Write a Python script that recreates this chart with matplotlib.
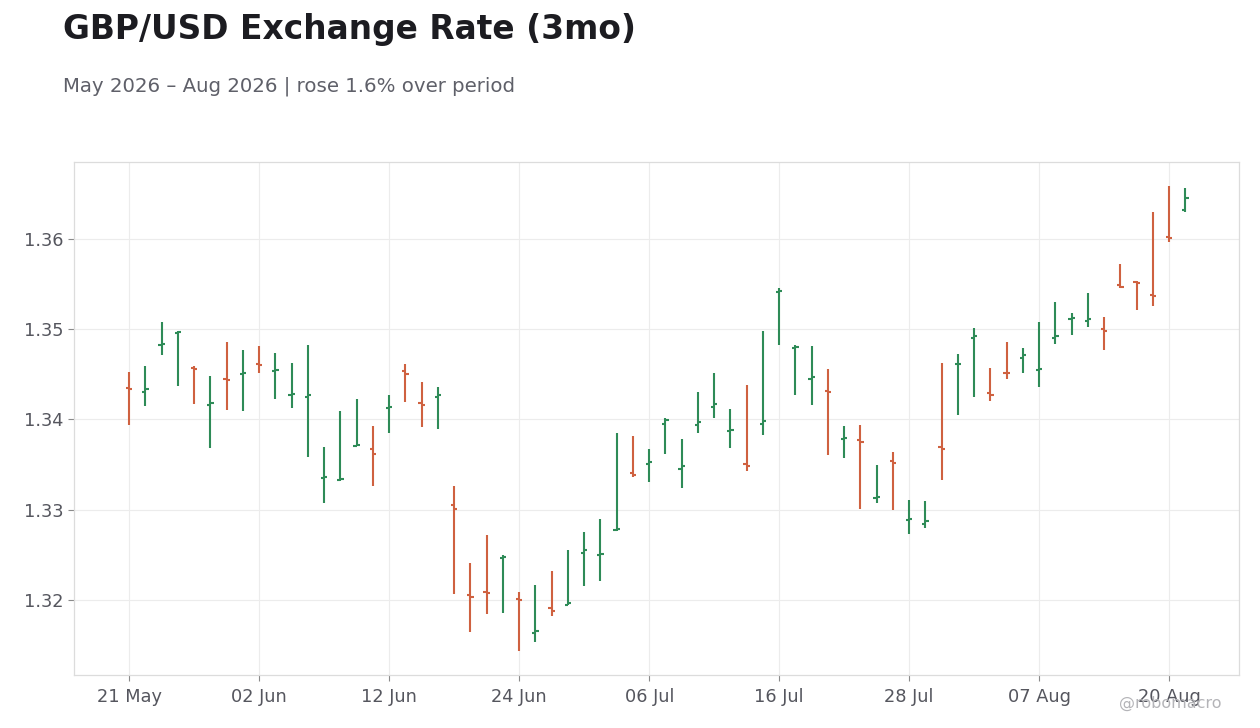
import matplotlib
matplotlib.use("Agg")
import matplotlib.pyplot as plt
import pandas as pd

# trading days from 21 May 2026
dates = pd.bdate_range("2026-05-21", periods=66)

opens = [1.3435, 1.3431, 1.3482, 1.3496, 1.3457, 1.3416, 1.3445, 1.3450, 1.3461, 1.3454,
         1.3427, 1.3425, 1.3335, 1.3333, 1.3371, 1.3367, 1.3413, 1.3454, 1.3418, 1.3425,
         1.3305, 1.3206, 1.3209, 1.3247, 1.3201, 1.3163, 1.3191, 1.3195, 1.3252, 1.3250,
         1.3278, 1.3341, 1.3351, 1.3395, 1.3345, 1.3394, 1.3414, 1.3387, 1.3351, 1.3395,
         1.3541, 1.3479, 1.3445, 1.3432, 1.3378, 1.3377, 1.3313, 1.3354, 1.3289, 1.3284,
         1.3369, 1.3461, 1.3490, 1.3429, 1.3452, 1.3468, 1.3455, 1.3490, 1.3511, 1.3509,
         1.3500, 1.3549, 1.3552, 1.3538, 1.3602, 1.3632]
highs = [1.3453, 1.3459, 1.3508, 1.3498, 1.3459, 1.3448, 1.3486, 1.3477, 1.3481, 1.3474,
         1.3463, 1.3483, 1.3370, 1.3409, 1.3423, 1.3393, 1.3427, 1.3462, 1.3442, 1.3436,
         1.3326, 1.3241, 1.3272, 1.3250, 1.3209, 1.3217, 1.3232, 1.3255, 1.3275, 1.3290,
         1.3385, 1.3382, 1.3367, 1.3402, 1.3378, 1.3430, 1.3452, 1.3412, 1.3438, 1.3498,
         1.3546, 1.3483, 1.3481, 1.3456, 1.3393, 1.3394, 1.3350, 1.3364, 1.3311, 1.3310,
         1.3463, 1.3473, 1.3501, 1.3457, 1.3486, 1.3479, 1.3508, 1.3530, 1.3518, 1.3540,
         1.3514, 1.3572, 1.3554, 1.3630, 1.3659, 1.3657]
lows = [1.3394, 1.3415, 1.3471, 1.3437, 1.3417, 1.3368, 1.3411, 1.3409, 1.3452, 1.3423,
        1.3413, 1.3358, 1.3307, 1.3332, 1.3371, 1.3326, 1.3385, 1.3419, 1.3392, 1.3390,
        1.3207, 1.3164, 1.3185, 1.3186, 1.3143, 1.3153, 1.3182, 1.3194, 1.3215, 1.3221,
        1.3276, 1.3336, 1.3331, 1.3362, 1.3324, 1.3385, 1.3402, 1.3368, 1.3343, 1.3383,
        1.3482, 1.3427, 1.3416, 1.3361, 1.3357, 1.3301, 1.3308, 1.3300, 1.3273, 1.3280,
        1.3333, 1.3405, 1.3425, 1.3421, 1.3445, 1.3452, 1.3436, 1.3484, 1.3494, 1.3502,
        1.3477, 1.3546, 1.3521, 1.3526, 1.3597, 1.3630]
closes = [1.3434, 1.3434, 1.3484, 1.3497, 1.3456, 1.3418, 1.3444, 1.3452, 1.3460, 1.3455,
          1.3428, 1.3427, 1.3336, 1.3334, 1.3372, 1.3362, 1.3414, 1.3450, 1.3416, 1.3427,
          1.3301, 1.3203, 1.3208, 1.3248, 1.3200, 1.3166, 1.3188, 1.3197, 1.3255, 1.3251,
          1.3279, 1.3339, 1.3353, 1.3399, 1.3349, 1.3397, 1.3417, 1.3388, 1.3349, 1.3398,
          1.3542, 1.3480, 1.3447, 1.3431, 1.3380, 1.3375, 1.3314, 1.3352, 1.3290, 1.3288,
          1.3367, 1.3462, 1.3493, 1.3427, 1.3451, 1.3471, 1.3456, 1.3492, 1.3512, 1.3511,
          1.3498, 1.3547, 1.3551, 1.3537, 1.3601, 1.3645]

tick_labels = ["21 May", "02 Jun", "12 Jun", "24 Jun", "06 Jul", "16 Jul", "28 Jul", "07 Aug", "20 Aug"]

UP = "#2e8b57"
DOWN = "#cf6140"

fig = plt.figure(figsize=(12.6, 7.28), dpi=100)
ax = fig.add_axes([74 / 1260, 1 - 675 / 728, (1239 - 74) / 1260, (675 - 162) / 728])

x = list(range(len(dates)))
colors = [UP if c >= o else DOWN for o, c in zip(opens, closes)]
w = 0.2
ax.vlines(x, lows, highs, colors=colors, linewidth=1.5, zorder=3)
ax.hlines(opens, [i - w for i in x], x, colors=colors, linewidth=1.5, zorder=3)
ax.hlines(closes, x, [i + w for i in x], colors=colors, linewidth=1.5, zorder=3)

ax.set_xlim(-3.4, 68.3)
ax.set_ylim(1.31169, 1.36853)
ax.set_xticks(range(0, len(dates), 8))
ax.set_xticklabels(tick_labels)
ax.set_yticks([1.32, 1.33, 1.34, 1.35, 1.36])
ax.set_yticklabels(["1.32", "1.33", "1.34", "1.35", "1.36"])

ax.grid(True, color="#ececec", linewidth=0.8, zorder=0)
for s in ax.spines.values():
    s.set_color("#dcdcdc")
    s.set_linewidth(0.9)
ax.tick_params(colors="#8a8a8a", labelcolor="#55565e", labelsize=12.8, length=4, width=0.8)
ax.tick_params(axis="x", pad=5)

fig.text(63 / 1260, 1 - 39.5 / 728, "GBP/USD Exchange Rate (3mo)", fontsize=23.7,
         fontweight="bold", color="#1c1c21", va="baseline", ha="left")
fig.text(63 / 1260, 1 - 91.5 / 728, "May 2026 – Aug 2026 | rose 1.6% over period",
         fontsize=14.2, color="#5f6069", va="baseline", ha="left")
fig.text(1222 / 1260, 1 - 708 / 728, "@robomacro", fontsize=11.5, color="#b4b4b8",
         va="baseline", ha="right")

fig.savefig("out.png", dpi=100)
